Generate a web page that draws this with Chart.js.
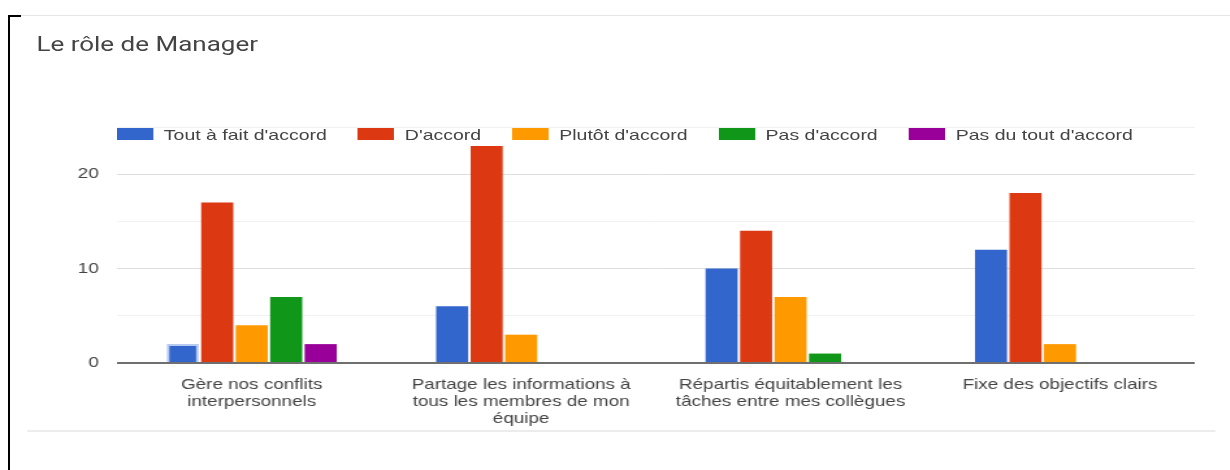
<!DOCTYPE html>
<html>
<head>
<meta charset="utf-8">
<script src="https://cdn.jsdelivr.net/npm/chart.js@4"></script>
<style>
  html, body { margin: 0; padding: 0; background: #fff; }
  body { width: 1230px; height: 470px; position: relative; overflow: hidden; }
  /* the reference is a stretched screenshot: draw narrow, then widen */
  #wrap { position: absolute; left: 0; top: 0; width: 946px; height: 470px;
          transform: scaleX(1.3); transform-origin: 0 0; }
  #title { position: absolute; left: 28px; top: 32px; font: 20px Roboto, sans-serif; color: #444; white-space: nowrap; }
  #legend { position: absolute; left: 90px; top: 125px; height: 18px; display: flex; align-items: center;
            font: 15px "Liberation Sans", Arial, sans-serif; color: #444; white-space: nowrap; }
  #legend .item { display: flex; align-items: center; margin-right: 24px; }
  #legend .box { width: 28px; height: 12px; margin-right: 8px; }
  #sep { position: absolute; left: 21px; width: 914px; top: 430px; height: 2px; background: #ececec; }
  #edgeL { position: absolute; left: 8px; top: 15px; width: 2px; height: 455px; background: #000; }
  #edgeT { position: absolute; left: 8px; top: 15px; width: 13px; height: 2px; background: #000; }
  #edgeT2 { position: absolute; left: 21px; top: 15px; width: 1209px; height: 1px; background: #e6e6e6; }
</style>
</head>
<body>
<div id="edgeL"></div><div id="edgeT"></div><div id="edgeT2"></div>
<div id="wrap">
  <div id="title">Le rôle de Manager</div>
  <canvas id="chart" width="946" height="470"></canvas>
  <div id="legend"></div>
  <div id="sep"></div>
</div>
<script>
// =======================
//  DATA
// =======================
const categories = [
  ["Gère nos conflits", "interpersonnels"],
  ["Partage les informations à", "tous les membres de mon", "équipe"],
  ["Répartis équitablement les", "tâches entre mes collègues"],
  ["Fixe des objectifs clairs"]
];
const seriesNames = ["Tout à fait d'accord", "D'accord", "Plutôt d'accord", "Pas d'accord", "Pas du tout d'accord"];
const toutAFait  = [2, 6, 10, 12];
const daccord    = [17, 23, 14, 18];
const plutot     = [4, 3, 7, 2];
const pasDaccord = [7, 0, 1, 0];
const pasDuTout  = [2, 0, 0, 0];
const yTicks = [0, 10, 20];

const colors = ["#3366cc", "#dc3912", "#ff9900", "#109618", "#990099"];
const values = [toutAFait, daccord, plutot, pasDaccord, pasDuTout];

// =======================
//  CHART
// =======================
const font = { family: "'Liberation Sans', Arial, sans-serif", size: 14.5, lineHeight: 1.17 };

const chart = new Chart(document.getElementById("chart"), {
  type: "bar",
  data: {
    labels: categories,
    datasets: seriesNames.map((name, i) => ({
      label: name,
      data: values[i],
      backgroundColor: colors[i],
      // first bar shows the hover outline seen in the screenshot
      borderColor: i === 0 ? "#b7cbf2" : colors[i],
      borderWidth: i === 0 ? [2, 0, 0, 0] : 0,
      barPercentage: 0.93,
      categoryPercentage: 0.64
    }))
  },
  options: {
    responsive: false,
    animation: false,
    layout: { padding: { top: 127, right: 27, left: 0, bottom: 0 } },
    plugins: { legend: { display: false }, tooltip: { enabled: false } },
    scales: {
      x: {
        grid: { display: false },
        border: { display: false },
        ticks: { color: "#444", font, padding: 6, maxRotation: 0, autoSkip: false },
        afterFit: s => { s.height = 107; }
      },
      y: {
        min: 0, max: 25,
        border: { display: false },
        grid: {
          drawTicks: false,
          color: c => c.tick.value === 0 ? "#6f6f6f" : (yTicks.includes(c.tick.value) ? "#dedede" : "#f1f1f1"),
          lineWidth: c => c.tick.value === 0 ? 2 : 1
        },
        ticks: {
          stepSize: 5, color: "#444", font, padding: 14,
          callback: v => yTicks.includes(v) ? v : ""
        },
        afterFit: s => { s.width = 90; }
      }
    }
  }
});

// =======================
//  LEGEND
// =======================
const legend = document.getElementById("legend");
chart.data.datasets.forEach(ds => {
  const item = document.createElement("div");
  item.className = "item";
  item.innerHTML = '<span class="box" style="background:' + ds.backgroundColor + '"></span>' + ds.label;
  legend.appendChild(item);
});
</script>
</body>
</html>
